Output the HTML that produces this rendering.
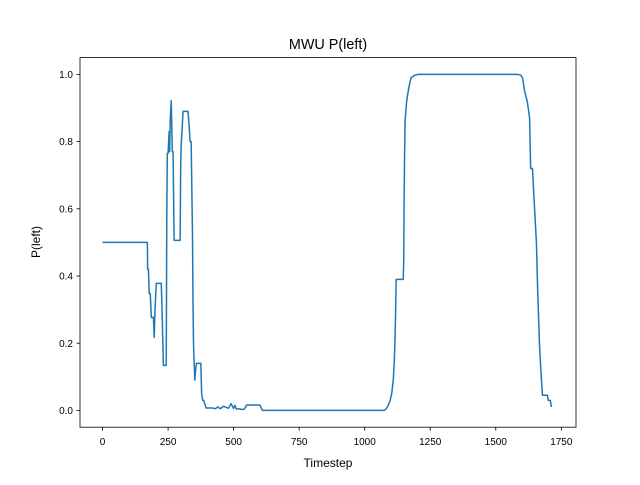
<!DOCTYPE html>
<html><head><meta charset="utf-8"><style>
body{margin:0;background:#fff;}
svg{font-family:"Liberation Sans","DejaVu Sans",sans-serif;}
</style></head><body>
<svg id="chart" width="640" height="480" xmlns="http://www.w3.org/2000/svg">
<rect width="640" height="480" fill="#fff"/>
<text x="328" y="49" text-anchor="middle" font-size="14.4">MWU P(left)</text>
<g id="ticks"></g>
<path id="line" fill="none" stroke="#1f77b4" stroke-width="1.5" stroke-linejoin="round"/>
<rect x="80" y="57.6" width="496" height="369.6" fill="none" stroke="#000" stroke-width="0.8"/>
<text x="328" y="467" text-anchor="middle" font-size="12">Timestep</text>
<text x="0" y="0" transform="translate(40,242) rotate(-90)" text-anchor="middle" font-size="12">P(left)</text>
</svg>
<script>
const xTicks=[0,250,500,750,1000,1250,1500,1750];
const yTicks=[0.0,0.2,0.4,0.6,0.8,1.0];
const timesteps=[0,171,172,175,178,182,186,194,197,200,205,224,227,232,243,245,247,250,254,256,258,262,266,269,273,296,298,300,303,307,311,326,330,334,338,343,345,347,349,352,355,358,364,375,378,382,386,395,399,420,430,440,450,460,470,480,490,500,505,510,520,530,540,550,560,575,580,600,610,700,800,900,1000,1075,1082,1090,1097,1103,1109,1113,1116,1118,1120,1147,1149,1150,1152,1154,1160,1166,1172,1177,1190,1203,1400,1583,1595,1602,1610,1620,1629,1633,1640,1648,1655,1660,1667,1672,1678,1697,1700,1708,1712];
const pLeft=[0.5,0.5,0.42,0.42,0.348,0.348,0.277,0.277,0.217,0.3,0.378,0.378,0.3,0.134,0.134,0.575,0.765,0.765,0.83,0.77,0.86,0.922,0.77,0.77,0.506,0.506,0.72,0.79,0.83,0.89,0.89,0.89,0.85,0.8,0.8,0.527,0.327,0.2,0.15,0.09,0.12,0.14,0.14,0.14,0.05,0.03,0.03,0.007,0.007,0.007,0.005,0.01,0.005,0.012,0.01,0.006,0.02,0.006,0.015,0.004,0.005,0.003,0.003,0.016,0.016,0.016,0.016,0.016,0.0,0.0,0.0,0.0,0.0,0.0,0.005,0.015,0.03,0.05,0.09,0.15,0.22,0.3,0.39,0.39,0.45,0.6,0.75,0.86,0.92,0.95,0.975,0.99,0.997,1.0,1.0,1.0,0.998,0.99,0.95,0.92,0.87,0.72,0.72,0.6,0.5,0.35,0.19,0.12,0.045,0.045,0.03,0.03,0.01];
const X=v=>80+(v+86)*496/1892;
const Y=v=>427.2-(v+0.05)*369.6/1.1;
const g=document.getElementById('ticks');
const NS='http://www.w3.org/2000/svg';
xTicks.forEach(t=>{
 const l=document.createElementNS(NS,'line');
 
 
 l.setAttribute('x1',X(t));l.setAttribute('x2',X(t));l.setAttribute('y1',427.2);l.setAttribute('y2',430.7);l.setAttribute('stroke','#000');l.setAttribute('stroke-width','0.8');g.appendChild(l);
 const s=document.createElementNS(NS,'text');
 
 
 s.setAttribute('x',X(t));s.setAttribute('y',445);s.setAttribute('text-anchor','middle');s.setAttribute('font-size','10');s.textContent=t;g.appendChild(s);
});
yTicks.forEach(t=>{
 const l=document.createElementNS(NS,'line');
 
 
 l.setAttribute('x1',76.5);l.setAttribute('x2',80);l.setAttribute('y1',Y(t));l.setAttribute('y2',Y(t));l.setAttribute('stroke','#000');l.setAttribute('stroke-width','0.8');g.appendChild(l);
 const s=document.createElementNS(NS,'text');
 
 
 s.setAttribute('x',73);s.setAttribute('y',Y(t)+3.6);s.setAttribute('text-anchor','end');s.setAttribute('font-size','10');s.textContent=t.toFixed(1);g.appendChild(s);
});
document.getElementById('line').setAttribute('d',timesteps.map((t,i)=>(i?'L':'M')+X(t).toFixed(2)+','+Y(pLeft[i]).toFixed(2)).join(''));
</script>
</body></html>
